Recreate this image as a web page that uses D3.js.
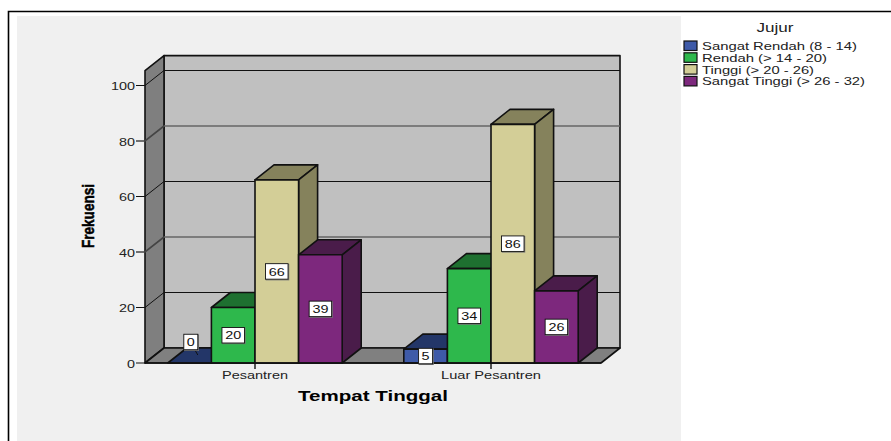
<!DOCTYPE html>
<html><head><meta charset="utf-8">
<script src="https://cdn.jsdelivr.net/npm/d3@7/dist/d3.min.js"></script>
<style>html,body{margin:0;padding:0;background:#fff;overflow:hidden}svg{display:block;font-family:"Liberation Sans",Arial,sans-serif}</style>
</head><body><svg id="c" width="891" height="441"></svg>
<script>
const categories = ["Pesantren", "Luar Pesantren"];
const seriesNames = ["Sangat Rendah (8 - 14)", "Rendah (> 14 - 20)", "Tinggi (> 20 - 26)", "Sangat Tinggi (> 26 - 32)"];
const sangatRendah = [0, 5];
const rendah = [20, 34];
const tinggi = [66, 86];
const sangatTinggi = [39, 26];
const yTicks = [0, 20, 40, 60, 80, 100];
const legendTitle = "Jujur";
const xTitle = "Tempat Tinggal";
const yTitle = "Frekuensi";
const seriesValues = [sangatRendah, rendah, tinggi, sangatTinggi];
const frontColors = ["#3e5aa8", "#2eb84c", "#d3ce97", "#7d287d"];
const darkColors = ["#233668", "#1e7030", "#85825c", "#4a1c4a"];

const svg = d3.select("#c");
const dx = 19, dy = -15;
const y = d3.scaleLinear().domain([0, 100]).range([363, 85.5]);
const x0 = d3.scalePoint().domain(categories).range([255, 491]);
const barW = 43.6;
const xS = d3.scaleBand().domain(d3.range(4)).range([-2 * barW, 2 * barW]);
const L = 145, R = 601, yTop = 70.6, y0 = y(0);
const poly = pts => pts.map(p => p.join(",")).join(" ");

function txt(parent, s, xp, yp, size, len, opts = {}) {
  return parent.append("text").attr("x", xp).attr("y", yp)
    .attr("font-size", size).attr("text-anchor", opts.anchor || "middle")
    .attr("font-weight", opts.weight || "normal").attr("fill", opts.fill || "#111")
    .attr("stroke", opts.stroke || "none").attr("stroke-width", opts.stroke ? 0.5 : 0)
    .attr("textLength", len).attr("lengthAdjust", "spacingAndGlyphs").text(s);
}

// page frame and chart background
svg.append("rect").attr("x", 17).attr("y", 16).attr("width", 664).attr("height", 425).attr("fill", "#f0f0f0");
svg.append("path").attr("d", "M8.5,441V11.5H891").attr("fill", "none").attr("stroke", "#000").attr("stroke-width", 1.6);

// walls
const edge = { stroke: "#111", "stroke-width": 1.6, "stroke-linejoin": "round" };
const applyEdge = s => { for (const k in edge) s.attr(k, edge[k]); return s; };
applyEdge(svg.append("polygon").attr("points", poly([[L + dx, yTop + dy], [R + dx, yTop + dy], [R + dx, y0 + dy], [L + dx, y0 + dy]])).attr("fill", "#c0c0c0"));
applyEdge(svg.append("polygon").attr("points", poly([[L, yTop], [L + dx, yTop + dy], [L + dx, y0 + dy], [L, y0]])).attr("fill", "#7f7f7f"));
applyEdge(svg.append("polygon").attr("points", poly([[L, y0], [L + dx, y0 + dy], [R + dx, y0 + dy], [R, y0]])).attr("fill", "#808080"));

// gridlines on the walls and ticks
const heavy = d => d === 40 || d === 80;
yTicks.forEach(t => {
  const yy = y(t);
  const col = heavy(t) ? "#666" : "#111", w = heavy(t) ? 1.6 : 1;
  if (t > 0) svg.append("line").attr("x1", L + dx).attr("x2", R + dx).attr("y1", yy + dy).attr("y2", yy + dy).attr("stroke", col).attr("stroke-width", w);
  svg.append("path").attr("d", `M136,${yy}H${L}L${L + dx},${yy + dy}`).attr("fill", "none").attr("stroke", t === 0 ? "#111" : (heavy(t) ? "#444" : col)).attr("stroke-width", w);
  txt(svg, String(t), 135, yy + 4.5, 11, String(t).length * 8, { anchor: "end", fill: "#222" });
});

// 3-D bars
categories.forEach((c, ci) => {
  seriesValues.forEach((vals, si) => {
    const v = vals[ci];
    const a = x0(c) + xS(si), b = a + xS.bandwidth(), top = y(v);
    const g = svg.append("g");
    applyEdge(g.append("polygon").attr("points", poly([[a, top], [a + dx, top + dy], [b + dx, top + dy], [b, top]])).attr("fill", darkColors[si]));
    if (v > 0) {
      applyEdge(g.append("polygon").attr("points", poly([[b, top], [b + dx, top + dy], [b + dx, y0 + dy], [b, y0]])).attr("fill", darkColors[si]));
      applyEdge(g.append("rect").attr("x", a).attr("y", top).attr("width", b - a).attr("height", y0 - top).attr("fill", frontColors[si]));
    }
  });
});

// floor edge, category ticks and labels
svg.append("line").attr("x1", L).attr("x2", R).attr("y1", y0).attr("y2", y0).attr("stroke", "#111").attr("stroke-width", 1.6);
categories.forEach((c, i) => {
  svg.append("line").attr("x1", x0(c)).attr("x2", x0(c)).attr("y1", y0).attr("y2", 369).attr("stroke", "#111").attr("stroke-width", 1.4);
  txt(svg, c, x0(c), 379, 10.5, i === 0 ? 66 : 100, { fill: "#222" });
});

// value labels
categories.forEach((c, ci) => {
  seriesValues.forEach((vals, si) => {
    const v = vals[ci];
    let cx = x0(c) + xS(si) + xS.bandwidth() / 2;
    let cy = (y(v) + y0) / 2;
    const w = v < 10 ? 14 : 22.5, h = 15.5;
    if (v === 0) {
      cy = 342;
      cx += 1.2;
      svg.append("line").attr("x1", cx + 3).attr("y1", cy + 6).attr("x2", cx + 7).attr("y2", cy + 13).attr("stroke", "#111").attr("stroke-width", 1);
    }
    svg.append("rect").attr("x", cx - w / 2 + 0.7).attr("y", cy - h / 2 + 0.7).attr("width", w).attr("height", h).attr("fill", "none").attr("stroke", "#777").attr("stroke-width", 1);
    svg.append("rect").attr("x", cx - w / 2).attr("y", cy - h / 2).attr("width", w).attr("height", h).attr("fill", "#fff").attr("stroke", "#111").attr("stroke-width", 0.9);
    txt(svg, String(v), cx, cy + 4.2, 11, String(v).length * 8);
  });
});

// axis titles
txt(svg, xTitle, 373, 401, 15, 150, { weight: "bold", fill: "#000" });
svg.append("g").attr("transform", "translate(94,216) rotate(-90)").call(g => txt(g, yTitle, 0, 0, 17, 64, { weight: "bold", fill: "#000", stroke: "#000" }));

// legend
txt(svg, legendTitle, 775, 32, 12.5, 37, { fill: "#222" });
const legendLens = [155, 125, 112, 163];
seriesNames.forEach((n, i) => {
  const ly = 41 + i * 11.8;
  svg.append("rect").attr("x", 684).attr("y", ly).attr("width", 13).attr("height", 9.5).attr("fill", frontColors[i]).attr("stroke", "#111").attr("stroke-width", 1.2);
  txt(svg, n, 702, ly + 9, 11.5, legendLens[i], { anchor: "start", fill: "#222" });
});
</script></body></html>
